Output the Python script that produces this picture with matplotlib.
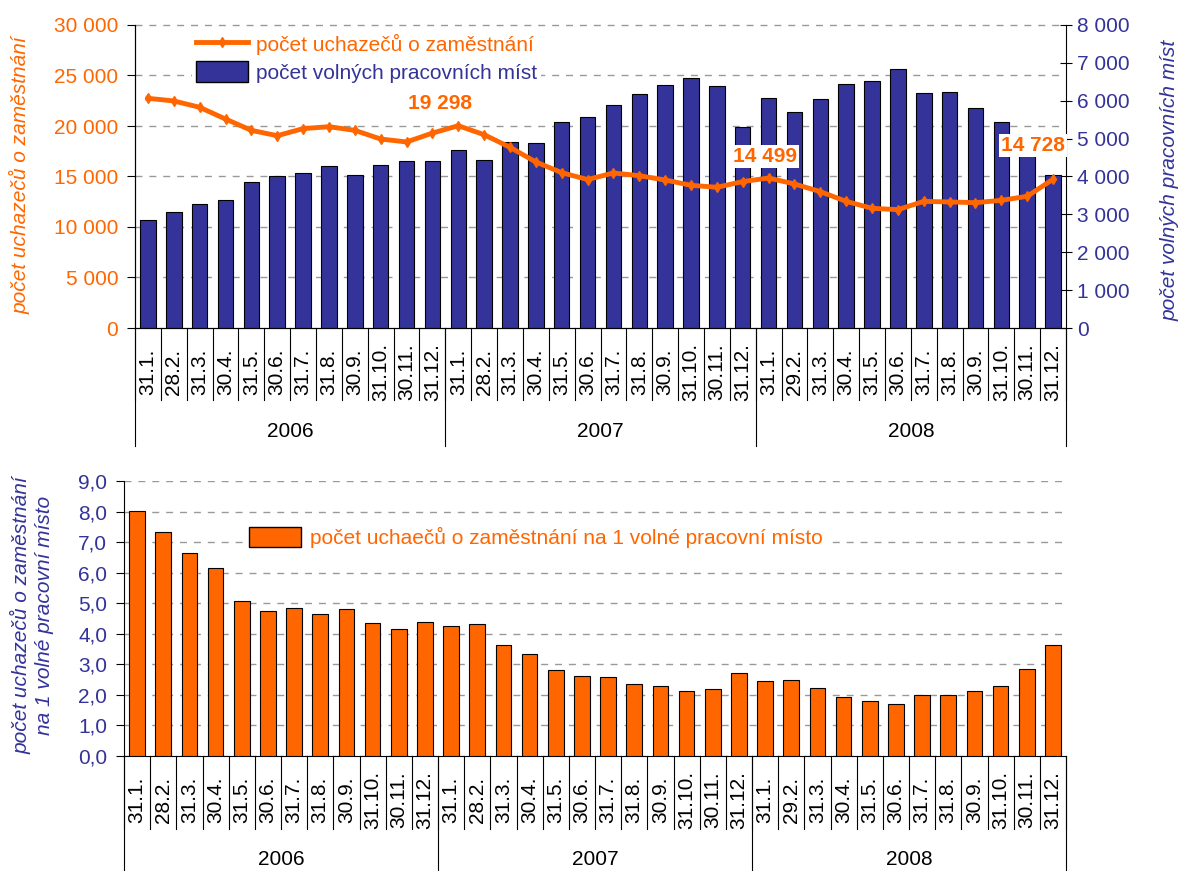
import numpy as np
import matplotlib.pyplot as plt
from matplotlib.lines import Line2D
from matplotlib.patches import Patch
from matplotlib.ticker import FuncFormatter, MultipleLocator

plt.rcParams['font.family'] = ['Liberation Sans', 'DejaVu Sans']

# --- data ---
roky = ['2006', '2007', '2008']
data_2006 = ['31.1.', '28.2.', '31.3.', '30.4.', '31.5.', '30.6.', '31.7.', '31.8.', '30.9.', '31.10.', '30.11.', '31.12.']
data_2007 = ['31.1.', '28.2.', '31.3.', '30.4.', '31.5.', '30.6.', '31.7.', '31.8.', '30.9.', '31.10.', '30.11.', '31.12.']
data_2008 = ['31.1.', '29.2.', '31.3.', '30.4.', '31.5.', '30.6.', '31.7.', '31.8.', '30.9.', '31.10.', '30.11.', '31.12.']
datumy = data_2006 + data_2007 + data_2008

uchazeci = [22740, 22480, 21850, 20690, 19570, 19040, 19740, 19930, 19570, 18710, 18420, 19298,
            20030, 19140, 17890, 16440, 15380, 14700, 15350, 15080, 14650, 14130, 13930, 14499,
            14850, 14260, 13500, 12540, 11850, 11720, 12540, 12480, 12410, 12640, 13040, 14728]
volna_mista = [2843, 3063, 3275, 3380, 3856, 4014, 4093, 4278, 4049, 4305, 4410, 4410,
               4701, 4428, 4912, 4886, 5440, 5563, 5880, 6188, 6417, 6602, 6391, 5317,
               6074, 5704, 6048, 6444, 6523, 6840, 6206, 6232, 5810, 5440, 4580, 4049]
na_misto = [8.01, 7.33, 6.65, 6.14, 5.06, 4.74, 4.83, 4.64, 4.81, 4.35, 4.17, 4.37,
            4.25, 4.31, 3.63, 3.33, 2.81, 2.63, 2.58, 2.35, 2.28, 2.12, 2.18, 2.71,
            2.45, 2.48, 2.22, 1.92, 1.79, 1.69, 1.99, 1.99, 2.12, 2.30, 2.84, 3.63]
popisky_idx = [11, 23, 35]   # year-end values with labels

ORANZ = '#FF6600'
MODRA = '#333399'
FS = 15
LEVA_MAX = 30000
PRAVA_MAX = 8000

x = np.arange(len(datumy))


def tisice(v, pos):
    return f'{int(round(v)):,}'.replace(',', ' ')


def kategorie(ax, y_dat, y_sep, y_rok, y_rok_sep):
    tr = ax.get_xaxis_transform()
    ax.set_xticks([])
    for i, d in enumerate(datumy):
        ax.text(i, y_dat, d, transform=tr, rotation=90, ha='center', va='center',
                fontsize=FS, clip_on=False)
    for b in np.arange(-0.5, len(datumy), 1):
        ax.plot([b, b], [0, y_sep], transform=tr, color='black', lw=0.8, clip_on=False)
    for k, rok in enumerate(roky):
        ax.text(k * 12 + 5.5, y_rok, rok, transform=tr, ha='center', va='center',
                fontsize=FS, clip_on=False)
    for b in [-0.5, 11.5, 23.5, 35.5]:
        ax.plot([b, b], [0, y_rok_sep], transform=tr, color='black', lw=0.8, clip_on=False)


fig = plt.figure(figsize=(11.84, 8.71), dpi=100)

# ---------------- top chart ----------------
ax = fig.add_axes([135 / 1184, 1 - 328 / 871, 931 / 1184, 303 / 871])
axr = ax.twinx()
ax.set_zorder(axr.get_zorder() + 1)
ax.patch.set_visible(False)

# gridlines follow the left axis ticks, drawn behind the bars on the right axis
for g in np.arange(5000, LEVA_MAX + 1, 5000) * PRAVA_MAX / LEVA_MAX:
    axr.axhline(g, color='#999999', linestyle=(0, (5, 5)), lw=1, zorder=1, clip_on=False)

axr.bar(x, volna_mista, width=0.6, color=MODRA, edgecolor='black', linewidth=0.8, zorder=3)
axr.set_ylim(0, PRAVA_MAX)
axr.yaxis.set_major_locator(MultipleLocator(1000))
axr.yaxis.set_major_formatter(FuncFormatter(tisice))
axr.tick_params(axis='y', which='major', direction='inout', length=8, colors='black',
                labelcolor=MODRA, labelsize=FS, pad=4)

ax.plot(x, uchazeci, color=ORANZ, lw=3.5, marker='d', markersize=5, solid_joinstyle='round')
ax.set_ylim(0, LEVA_MAX)
ax.set_xlim(-0.5, len(datumy) - 0.5)
axr.set_xlim(-0.5, len(datumy) - 0.5)
ax.yaxis.set_major_locator(MultipleLocator(5000))
ax.yaxis.set_major_formatter(FuncFormatter(tisice))
ax.tick_params(axis='y', direction='out', length=6, labelcolor=ORANZ, labelsize=FS, pad=6)
for a in (ax, axr):
    a.spines['top'].set_visible(False)
ax.spines['right'].set_visible(False)

offsety = {11: (8, 30), 23: (22, 25), 35: (-20, 34)}
for i in popisky_idx:
    ax.annotate(tisice(uchazeci[i], None), xy=(i, uchazeci[i]), xytext=offsety[i],
                textcoords='offset pixels', ha='center', va='center', fontsize=FS,
                fontweight='bold', color=ORANZ,
                bbox=dict(facecolor='white', edgecolor='none', pad=1.5), zorder=5)

kategorie(ax, -0.145, -0.238, -0.343, -0.39)

leg = ax.legend(handles=[Line2D([], [], color=ORANZ, lw=3.5, marker='d', markersize=5),
                         Patch(facecolor=MODRA, edgecolor='black')],
                labels=['počet uchazečů o zaměstnání', 'počet volných pracovních míst'],
                loc='upper left', bbox_to_anchor=(192 / 1184, 1 - 29 / 871),
                bbox_transform=fig.transFigure, borderaxespad=0, frameon=True,
                fancybox=False, edgecolor='none', framealpha=1, fontsize=FS,
                handlelength=2.5, handleheight=1.2, handletextpad=0.35, labelspacing=0.3,
                borderpad=0.2)
leg.get_texts()[0].set_color(ORANZ)
leg.get_texts()[1].set_color(MODRA)

fig.text(20 / 1184, 1 - 175 / 871, 'počet uchazečů o zaměstnání', rotation=90,
         ha='center', va='center', fontsize=FS, style='italic', color=ORANZ)
fig.text(1170 / 1184, 1 - 180 / 871, 'počet volných pracovních míst', rotation=90,
         ha='center', va='center', fontsize=FS, style='italic', color=MODRA)

# ---------------- bottom chart ----------------
ax2 = fig.add_axes([124 / 1184, 1 - 756 / 871, 942 / 1184, 275 / 871])
ax2.bar(x, na_misto, width=0.6, color=ORANZ, edgecolor='black', linewidth=0.8, zorder=3)
ax2.set_xlim(-0.5, len(datumy) - 0.5)
ax2.set_ylim(0, 9)
ax2.yaxis.set_major_locator(MultipleLocator(1))
ax2.yaxis.set_major_formatter(FuncFormatter(lambda v, p: f'{v:.1f}'.replace('.', ',')))
ax2.grid(axis='y', color='#999999', linestyle=(0, (5, 5)), lw=1)
ax2.set_axisbelow(True)
ax2.tick_params(axis='y', direction='out', length=6, labelcolor=MODRA, labelsize=FS, pad=6)
ax2.spines['top'].set_visible(False)
ax2.spines['right'].set_visible(False)

kategorie(ax2, -0.16, -0.265, -0.378, -0.45)

leg2 = ax2.legend(handles=[Patch(facecolor=ORANZ, edgecolor='black')],
                  labels=['počet uchaečů o zaměstnání na 1 volné pracovní místo'],
                  loc='upper left', bbox_to_anchor=(243 / 1184, 1 - 521 / 871),
                  bbox_transform=fig.transFigure, borderaxespad=0, frameon=True,
                  fancybox=False, edgecolor='none', framealpha=1, fontsize=FS,
                  handlelength=2.5, handleheight=1.1, handletextpad=0.4, borderpad=0.3)
leg2.get_texts()[0].set_color(ORANZ)

fig.text(32 / 1184, 1 - 615 / 871, 'počet uchazečů o zaměstnání\nna 1 volné pracovní místo',
         rotation=90, ha='center', va='center', multialignment='center', fontsize=FS,
         style='italic', color=MODRA, linespacing=1.25)

fig.savefig('out.png', dpi=100)
